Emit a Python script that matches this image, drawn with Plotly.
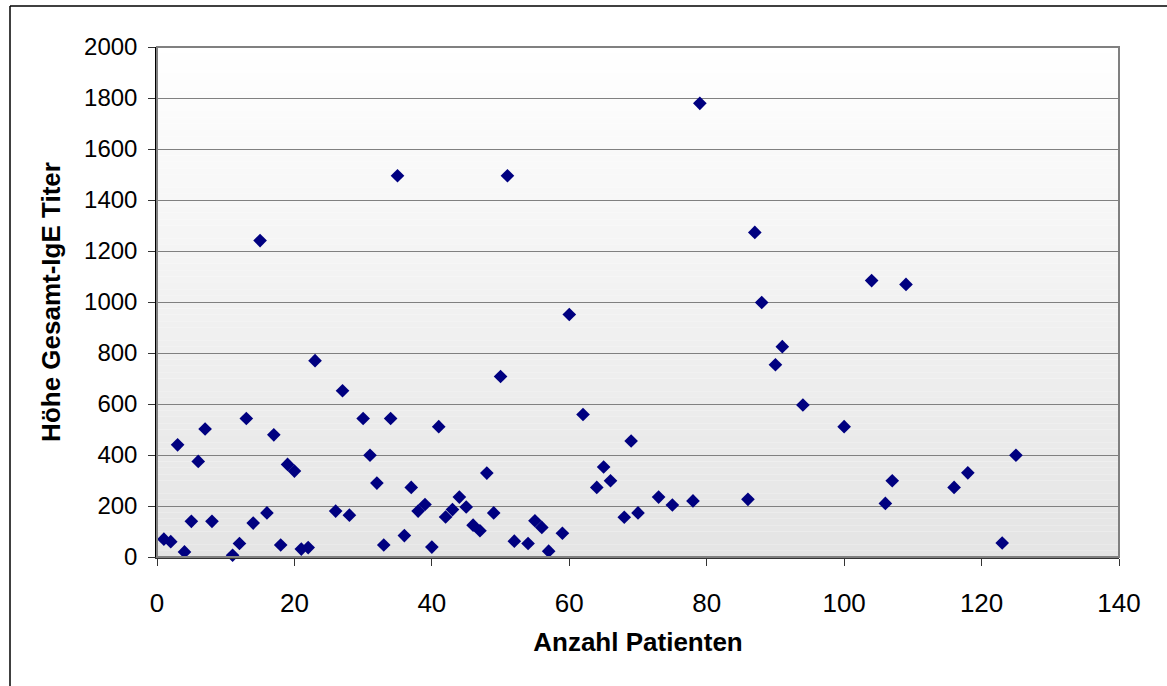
import plotly.graph_objects as go

# Data
patients = [1, 2, 3, 4, 5, 6, 7, 8, 11, 12, 13, 14, 15, 16, 17, 18, 19, 20, 21, 22, 23,
            26, 27, 28, 30, 31, 32, 33, 34, 35, 36, 37, 38, 39, 40, 41, 42, 43, 44, 45,
            46, 47, 48, 49, 50, 51, 52, 54, 55, 56, 57, 59, 60, 62, 64, 65, 66, 68, 69,
            70, 73, 75, 78, 79, 86, 87, 88, 90, 91, 94, 100, 104, 106, 107, 109, 116,
            118, 123, 125]
ige_titer = [70, 60, 440, 20, 140, 375, 502, 140, 7, 53, 543, 133, 1241, 173, 479, 47,
             363, 337, 31, 37, 770, 180, 652, 164, 543, 399, 290, 47, 543, 1495, 84, 273,
             180, 206, 39, 511, 157, 186, 235, 196, 125, 103, 329, 173, 708, 1495, 62,
             53, 142, 116, 23, 93, 951, 559, 273, 353, 299, 156, 455, 173, 235, 204, 220,
             1779, 226, 1273, 998, 754, 825, 596, 511, 1084, 210, 299, 1069, 273, 330,
             55, 399]

x_ticks = [0, 20, 40, 60, 80, 100, 120, 140]
y_ticks = [0, 200, 400, 600, 800, 1000, 1200, 1400, 1600, 1800, 2000]

W, H = 1167, 686
L, R, T, B = 157, 48, 47, 129
PW, PH = W - L - R, H - T - B

fig = go.Figure()
fig.add_trace(go.Scatter(
    x=patients, y=ige_titer, mode="markers",
    marker=dict(symbol="diamond", size=10.5, color="#000080", line=dict(width=0)),
    showlegend=False, cliponaxis=False,
))

shapes = []
# gradient background of plot area
n = 80
top = (255, 255, 255)
bot = (228, 228, 228)
for i in range(n):
    f = (i + 0.5) / n
    c = tuple(round(top[k] + (bot[k] - top[k]) * f) for k in range(3))
    shapes.append(dict(type="rect", xref="x domain", yref="y domain",
                       x0=0, x1=1, y1=1 - i / n, y0=1 - (i + 1) / n,
                       fillcolor="rgb(%d,%d,%d)" % c, line=dict(width=0), layer="below"))
# plot area border (right/top gray)
shapes.append(dict(type="rect", xref="x domain", yref="y domain", x0=0, x1=1, y0=0, y1=1,
                   line=dict(color="#808080", width=2), fillcolor="rgba(0,0,0,0)", layer="above"))
# outer chart border (only top and left visible)
def px_x(px):
    return (px - L) / PW
def px_y(py):
    return (H - B - py) / PH
shapes.append(dict(type="line", xref="paper", yref="paper",
                   x0=px_x(10), x1=px_x(1200), y0=px_y(6), y1=px_y(6),
                   line=dict(color="#000000", width=1.5)))
shapes.append(dict(type="line", xref="paper", yref="paper",
                   x0=px_x(10), x1=px_x(10), y0=px_y(6), y1=px_y(720),
                   line=dict(color="#000000", width=1.5)))

fig.update_layout(
    width=W, height=H,
    margin=dict(l=L, r=R, t=T, b=B, pad=0),
    paper_bgcolor="white", plot_bgcolor="white",
    font=dict(family="Liberation Sans, Arial, sans-serif", color="black"),
    shapes=shapes,
    xaxis=dict(
        range=[0, 140], tickvals=x_ticks, ticktext=[str(v) for v in x_ticks],
        showgrid=False, zeroline=False,
        showline=True, linecolor="#333333", linewidth=1.5,
        ticks="outside", ticklen=7, tickcolor="#333333", tickwidth=1,
        tickfont=dict(size=26), ticklabelstandoff=15,
        title=dict(text="<b>Anzahl Patienten</b>", font=dict(size=26), standoff=16),
    ),
    yaxis=dict(
        range=[0, 2000], tickvals=y_ticks, ticktext=[str(v) for v in y_ticks],
        showgrid=True, gridcolor="#808080", gridwidth=1, zeroline=False,
        showline=True, linecolor="#000000", linewidth=1.5,
        ticks="outside", ticklen=7, tickcolor="#333333", tickwidth=1,
        tickfont=dict(size=24), ticklabelstandoff=6,
        title=dict(text="<b>Höhe Gesamt-IgE Titer</b>", font=dict(size=26), standoff=16),
    ),
)

fig.write_html("out.html")
